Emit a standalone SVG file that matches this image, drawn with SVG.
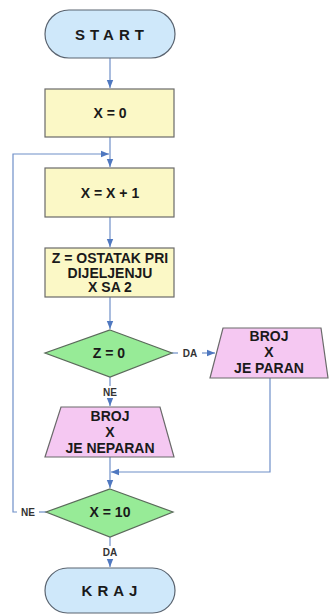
<svg xmlns="http://www.w3.org/2000/svg" width="329" height="614" viewBox="0 0 329 614">
<defs>
<style>
.term{fill:#cfe8fa;stroke:#5a6470;stroke-width:1.2}
.proc{fill:#fbf8c6;stroke:#6a6a6a;stroke-width:1.2}
.dec{fill:#97eb97;stroke:#5a6a5a;stroke-width:1.2}
.io{fill:#f5c8f2;stroke:#6a6a6a;stroke-width:1.2}
.t{font-family:"Liberation Sans",Arial,sans-serif;font-weight:bold;font-size:14px;fill:#1a1a1a;text-anchor:middle}
.big{font-size:15px;letter-spacing:5px}
.lbl{font-family:"Liberation Sans",Arial,sans-serif;font-weight:bold;font-size:10px;fill:#333;text-anchor:middle}
.c{fill:none;stroke:#6f8fc8;stroke-width:1.2}
</style>
<marker id="ah" viewBox="0 0 10 10" refX="10" refY="5" markerWidth="7" markerHeight="7" orient="auto">
<path d="M0,1 L10,5 L0,9 z" fill="#4f78c0"/>
</marker>
</defs>
<g id="connectors">
<path class="c" d="M110,58 V88" marker-end="url(#ah)"/>
<path class="c" d="M110,137 V167" marker-end="url(#ah)"/>
<path class="c" d="M110,217 V247" marker-end="url(#ah)"/>
<path class="c" d="M110,297 V329" marker-end="url(#ah)"/>
<path class="c" d="M172,353 H178"/>
<path class="c" d="M202,353 H215" marker-end="url(#ah)"/>
<path class="c" d="M110,377 V386"/>
<path class="c" d="M110,399 V406" marker-end="url(#ah)"/>
<path class="c" d="M270,378 V472 H111" marker-end="url(#ah)"/>
<path class="c" d="M110,457 V488" marker-end="url(#ah)"/>
<path class="c" d="M46,512 H39"/>
<path class="c" d="M17,512 H13 V154 H109" marker-end="url(#ah)"/>
<path class="c" d="M110,537 V546"/>
<path class="c" d="M110,559 V567" marker-end="url(#ah)"/>
<text class="lbl" x="190" y="357">DA</text>
<text class="lbl" x="110" y="396">NE</text>
<text class="lbl" x="28" y="516">NE</text>
<text class="lbl" x="110" y="556">DA</text>
</g>
<g id="start">
<rect class="term" x="45" y="10" width="130" height="48" rx="24"/>
<text class="t big" x="112" y="39.5">START</text>
</g>
<g id="x0">
<rect class="proc" x="45" y="89" width="129" height="48"/>
<text class="t" x="110" y="118">X = 0</text>
</g>
<g id="xinc">
<rect class="proc" x="45" y="168" width="129" height="49"/>
<text class="t" x="110" y="197.5">X = X + 1</text>
</g>
<g id="zmod">
<rect class="proc" x="45" y="248" width="129" height="49"/>
<text class="t" x="110" y="263">Z = OSTATAK PRI</text>
<text class="t" x="110" y="277.5">DIJELJENJU</text>
<text class="t" x="110" y="292">X SA 2</text>
</g>
<g id="z0">
<polygon class="dec" points="110,330 172,353 110,377 45,353"/>
<text class="t" x="109" y="358">Z = 0</text>
</g>
<g id="paran">
<polygon class="io" points="223,328 321,328 328,378 210,378"/>
<text class="t" x="269" y="341">BROJ</text>
<text class="t" x="269" y="357">X</text>
<text class="t" x="269" y="373">JE PARAN</text>
</g>
<g id="neparan">
<polygon class="io" points="61,407 160,407 174,457 45,457"/>
<text class="t" x="110" y="421">BROJ</text>
<text class="t" x="110" y="437">X</text>
<text class="t" x="110" y="453">JE NEPARAN</text>
</g>
<g id="x10">
<polygon class="dec" points="110,489 173,512 110,537 46,512"/>
<text class="t" x="110" y="517">X = 10</text>
</g>
<g id="kraj">
<rect class="term" x="45" y="568" width="130" height="45" rx="22.5"/>
<text class="t big" x="112" y="596">KRAJ</text>
</g>
</svg>
